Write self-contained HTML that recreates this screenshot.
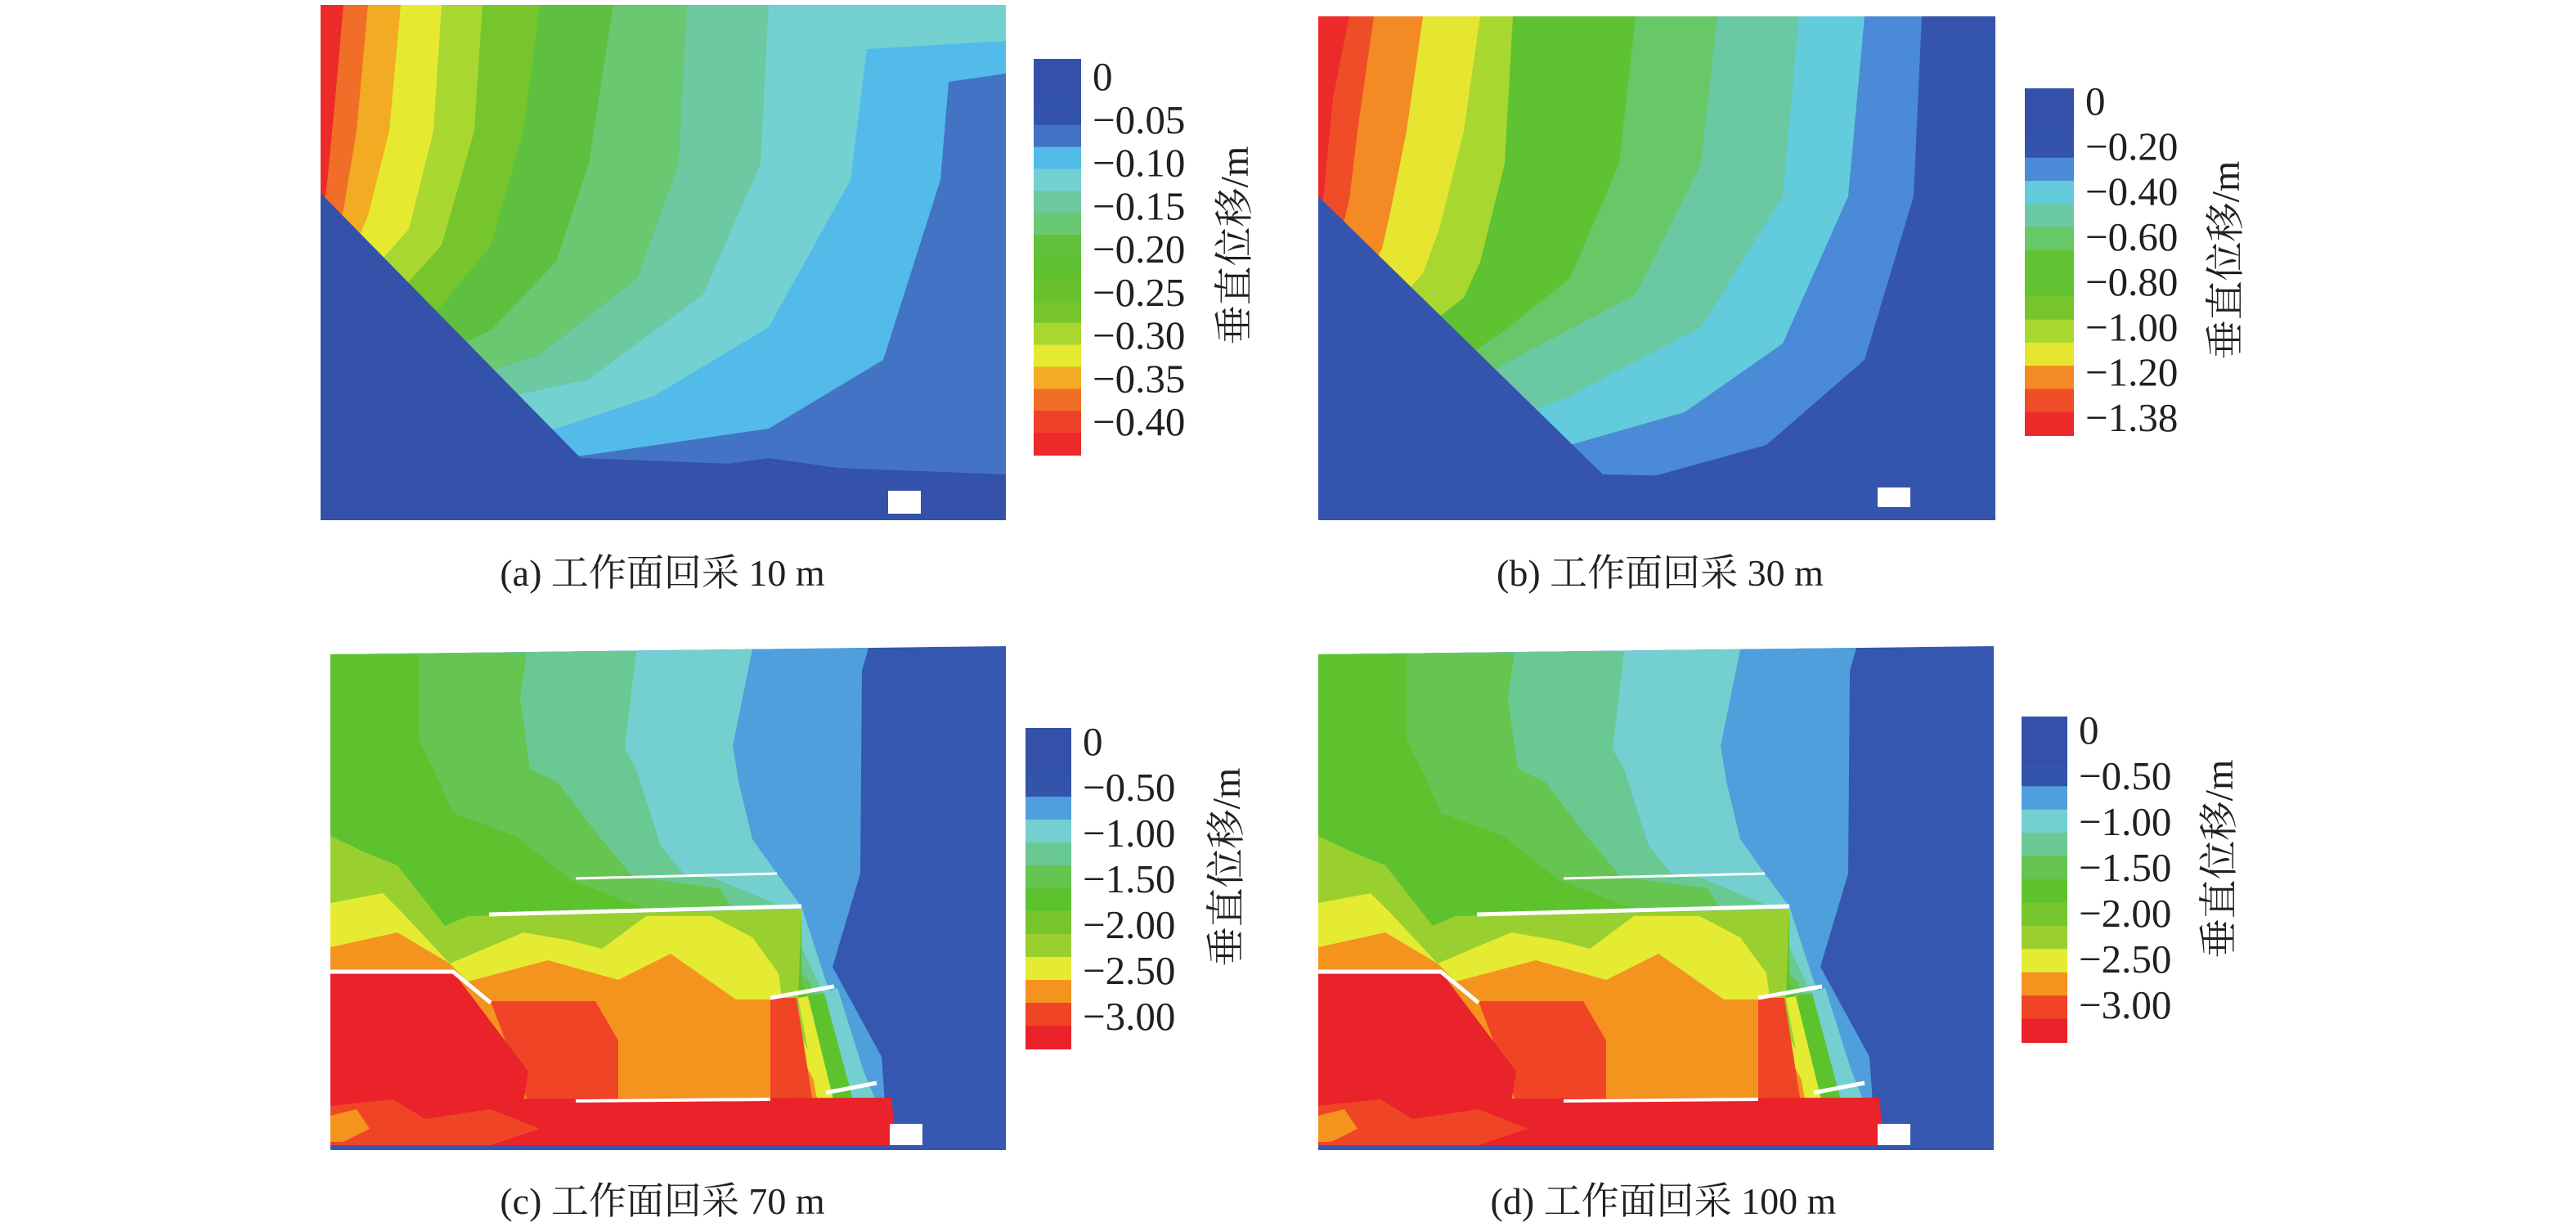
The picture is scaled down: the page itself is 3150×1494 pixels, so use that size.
<!DOCTYPE html>
<html><head><meta charset="utf-8"><style>
html,body{margin:0;padding:0;background:#fff}
svg{display:block}
text{font-family:"Liberation Serif","Noto Serif CJK SC",serif;fill:#231f20}
</style></head><body>
<svg id="fig" width="3150" height="1494" viewBox="0 0 1575 747" xmlns="http://www.w3.org/2000/svg">
<!-- Panel a -->
<g>
<rect x="196" y="3" width="419" height="315" fill="#3452aa"/>
<polygon fill="#4373c5" points="196,3 615,3 615,290 540,290 470,280 196,318"/>
<polygon fill="#52bbea" points="196,3 615,3 615,45 580,50 575,110 540,220 470,262 360,278 196,300"/>
<polygon fill="#74d1d2" points="196,3 615,3 615,25 530,30 520,110 470,200 400,242 340,262 196,290"/>
<polygon fill="#6cc9a2" points="196,3 470,3 465,100 430,180 360,232 300,245 196,280"/>
<polygon fill="#6ac870" points="196,3 420,3 415,100 390,170 330,217 196,260"/>
<polygon fill="#5fc040" points="196,3 375,3 360,100 340,160 300,202 196,250"/>
<polygon fill="#76c52c" points="196,3 330,3 320,80 300,150 270,187 196,240"/>
<polygon fill="#a8d730" points="196,3 295,3 290,80 270,150 250,172 196,230"/>
<polygon fill="#e5ea30" points="196,3 270,3 265,80 250,140 235,157 196,220"/>
<polygon fill="#f2ab22" points="196,3 245,3 238,80 225,132 196,200"/>
<polygon fill="#f06e28" points="196,3 225,3 218,80 210,128 196,180"/>
<polygon fill="#ec2a2a" points="196,3 210,3 205,60 200,112 196,140"/>
<polygon fill="#3452aa" points="196,118 355,280 615,290 615,318 196,318"/>
<rect x="543" y="300" width="20" height="14" fill="#fff"/>
</g>
<!-- Panel b -->
<g>
<rect x="806" y="10" width="414" height="308" fill="#3454ad"/>
<polygon fill="#4a8ad6" points="806,10 1175,10 1170,120 1140,220 1080,272 990,297 806,318"/>
<polygon fill="#62cbdc" points="806,10 1140,10 1130,120 1090,210 1030,252 960,272 806,318"/>
<polygon fill="#6ac9a2" points="806,10 1100,10 1090,120 1040,200 960,242 806,300"/>
<polygon fill="#68c868" points="806,10 1050,10 1040,100 1000,180 930,217 806,290"/>
<polygon fill="#5ec232" points="806,10 1000,10 990,100 960,170 920,202 806,280"/>
<polygon fill="#a8d730" points="806,10 925,10 920,100 905,160 895,182 806,250"/>
<polygon fill="#e6e630" points="806,10 905,10 895,80 880,140 870,167 806,240"/>
<polygon fill="#f38a24" points="806,10 870,10 860,80 850,130 845,152 806,220"/>
<polygon fill="#ef4d28" points="806,10 840,10 830,80 825,122 806,200"/>
<polygon fill="#ec2a2a" points="806,10 825,10 815,60 810,112 806,150"/>
<polygon fill="#3454ad" points="806,120 980,290 1220,295 1220,318 806,318"/>
<rect x="1148" y="298" width="20" height="12" fill="#fff"/>
</g>
<!-- Panel c -->
<g id="pc">
<polygon fill="#3557b0" points="202,400 615,395 615,703 202,703"/>
<polygon fill="#4f9fdc" points="202,400 531,396 527,410 526,534 509,591 539,646 541,674 202,674"/>
<polygon fill="#74d0d0" points="202,400 460,397 448,456 452,480 460,513 475,534 490,554 505,600 536,674 202,674"/>
<polygon fill="#6ac993" points="202,400 389,398 382,458 389,470 404,517 418,534 437,537 478,554 500,600 530,674 202,674"/>
<polygon fill="#66c450" points="202,400 322,399 318,427 324,470 341,478 366,511 387,536 440,543 447,554 495,600 525,674 202,674"/>
<polygon fill="#5ec22f" points="202,400 256,400 256,452 266,472 277,497 315,511 349,538 401,558 490,560 490,600 520,674 202,674"/>
<polygon fill="#99d030" points="202,511 223,521 243,529 272,566 286,560 490,556 488,610 515,674 202,674"/>
<polygon fill="#e5eb32" points="202,552 234,546 246,558 275,589 320,570 349,575 368,580 395,560 435,560 460,573 476,595 478,610 510,674 202,674"/>
<polygon fill="#f4941f" points="202,579 243,570 275,589 286,600 335,587 378,599 410,583 450,611 471,611 505,674 202,674"/>
<polygon fill="#ef4526" points="300,612 364,612 378,636 378,674 323,674"/>
<polygon fill="#ef4526" points="471,610 487,610 497,674 471,674"/>
<polygon fill="#e5eb32" points="488,610 494,609 512,674 500,674"/>
<polygon fill="#5ec22f" points="494,609 504,607 524,674 510,674"/>
<polygon fill="#74d0d0" points="504,607 512,604 534,674 522,674"/>
<polygon fill="#ea2229" points="202,595 277,594 323,655 320,674 202,674"/>
<polygon fill="#ea2229" points="202,672 545,671 548,700 202,700"/>
<polygon fill="#ef4526" points="202,676 240,672 260,684 300,678 330,690 300,700 202,700"/>
<polygon fill="#f4941f" points="202,682 218,678 226,690 210,698 202,698"/>
<rect x="544" y="687" width="20" height="13" fill="#fff"/>
<g stroke="#fff" fill="none">
<polyline stroke-width="1.5" points="352,537 475,534"/>
<polyline stroke-width="2.5" points="299,559 490,554"/>
<polyline stroke-width="2.5" points="202,594 277,594 300,613"/>
<polyline stroke-width="2.5" points="471,610 510,603"/>
<polyline stroke-width="2" points="352,673 471,672"/>
<polyline stroke-width="2.5" points="505,668 536,662"/>
</g>
</g>
<use href="#pc" transform="translate(604,0)"/>
<g id="bars"></g>
<text x="405" y="358" font-size="23" text-anchor="middle">(a) 工作面回采 10 m</text>
<text x="1015" y="358" font-size="23" text-anchor="middle">(b) 工作面回采 30 m</text>
<text x="405" y="742" font-size="23" text-anchor="middle">(c) 工作面回采 70 m</text>
<text x="1017" y="742" font-size="23" text-anchor="middle">(d) 工作面回采 100 m</text>
</svg>
<script>
const NS="http://www.w3.org/2000/svg";
const labelsA=["0","−0.05","−0.10","−0.15","−0.20","−0.25","−0.30","−0.35","−0.40"];
const colorsA=["#3351a8","#3351a8","#3453ab","#4272c4","#52bbea","#74d1d2","#6cc9a2","#6ac870","#62c03a","#5fc030","#68c22e","#76c52c","#a8d730","#e5ea30","#f2ab22","#f06e28","#ee4128","#ec2a2a"];
const labelsB=["0","−0.20","−0.40","−0.60","−0.80","−1.00","−1.20","−1.38"];
const colorsB=["#3351a8","#3351a8","#3453ab","#4a8ad6","#62cbdc","#6ac9a2","#68c868","#62c232","#62c232","#76c52c","#a8d730","#e6e630","#f38a24","#ef4d28","#ec2a2a"];
const labelsC=["0","−0.50","−1.00","−1.50","−2.00","−2.50","−3.00"];
const colorsC=["#3351a8","#3351a8","#3453ab","#4f9fdc","#74d0d0","#6ac993","#66c450","#5ec22f","#76c52c","#99d030","#e5eb32","#f4941f","#ef4526","#ea2229"];
const bars=[
 {id:"a",c:colorsA,l:labelsA,x:632,w:29,y0:36,y1:278,ly0:46.5,ly1:257.5,tx:755,ty:150},
 {id:"b",c:colorsB,l:labelsB,x:1238,w:30,y0:54,y1:266,ly0:61.5,ly1:255,tx:1361,ty:159},
 {id:"c",c:colorsC,l:labelsC,x:627,w:28,y0:445,y1:641,ly0:453,ly1:621,tx:750,ty:530},
 {id:"d",c:colorsC,l:labelsC,x:1236,w:28,y0:438,y1:637,ly0:446,ly1:614,tx:1357,ty:525}];
const g=document.getElementById("bars");
bars.forEach(b=>{
 const n=b.c.length,h=(b.y1-b.y0)/n;
 b.c.forEach((col,i)=>{
  const r=document.createElementNS(NS,"rect");
  r.setAttribute("x",b.x);r.setAttribute("y",b.y0+i*h);r.setAttribute("width",b.w);r.setAttribute("height",h+0.5);r.setAttribute("fill",col);
  
  
  g.appendChild(r);
 });
 const m=b.l.length;
 b.l.forEach((t,i)=>{
  const tx=document.createElementNS(NS,"text");
  tx.setAttribute("x",b.x+b.w+7);tx.setAttribute("y",b.ly0+(b.ly1-b.ly0)*i/(m-1)+8.5);tx.setAttribute("font-size","24.5");
  tx.textContent=t;
  
  
  g.appendChild(tx);
 });
 const tt=document.createElementNS(NS,"text");
 tt.setAttribute("x",b.tx);tt.setAttribute("y",b.ty);tt.setAttribute("font-size","24");tt.setAttribute("text-anchor","middle");
 tt.setAttribute("transform","rotate(-90 "+b.tx+" "+b.ty+")");tt.setAttribute("dominant-baseline","central");
 tt.textContent="垂直位移/m";
 
 
 g.appendChild(tt);
});
</script>
</body></html>
